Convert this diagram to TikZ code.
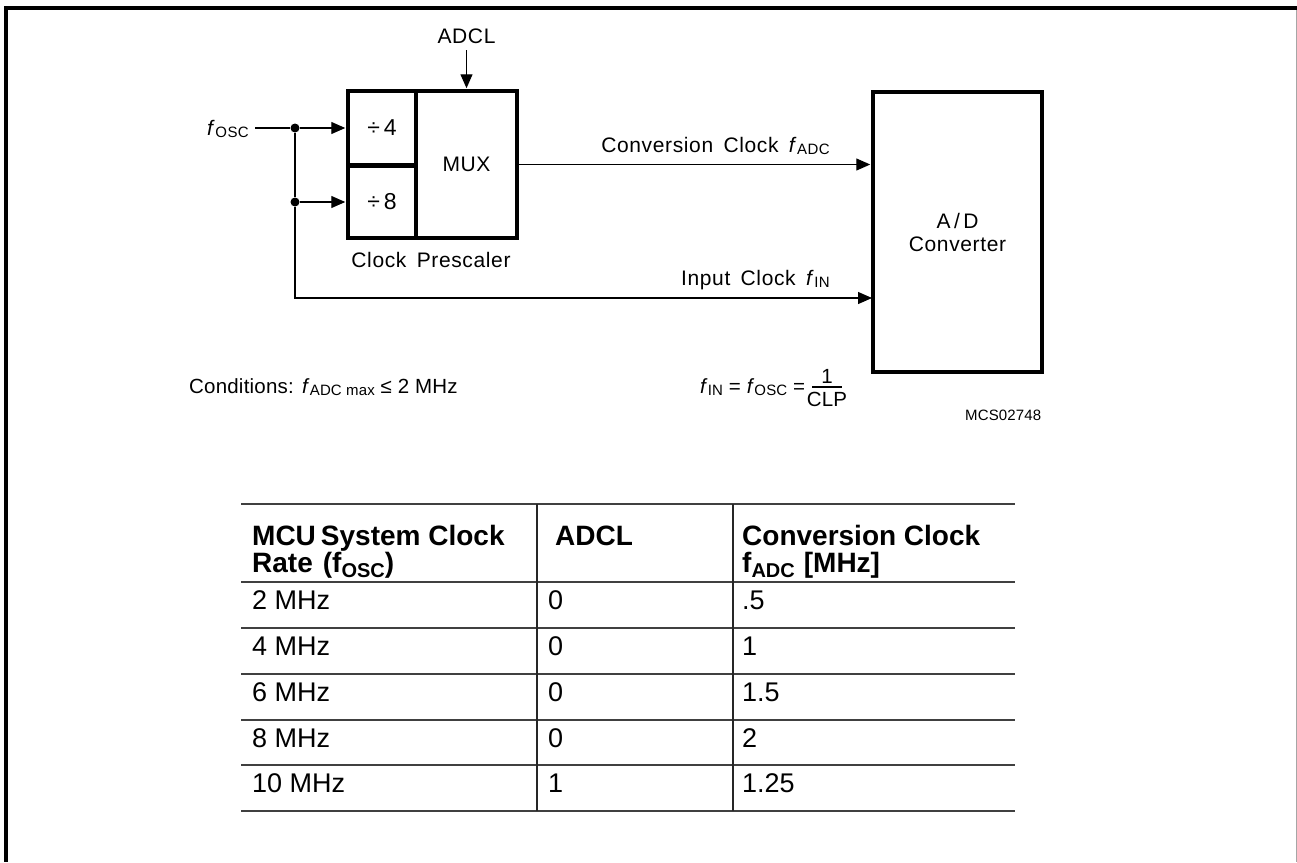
\documentclass[tikz,border=0pt]{standalone}
\usepackage{fontspec}
\setmainfont{Liberation Sans}
\newfontfamily\dfont[WordSpace=1.6,LetterSpace=3]{Liberation Sans}
\newfontfamily\cfont[LetterSpace=1]{Liberation Sans}
\usetikzlibrary{arrows.meta}
\newcommand{\dsub}[1]{\raisebox{-2.5pt}{\fontsize{15}{15}\selectfont #1}}
\newcommand{\tsub}[1]{\raisebox{-5pt}{\fontsize{20}{20}\selectfont\bfseries #1}}
\begin{document}
\begin{tikzpicture}[x=1pt,y=-1pt,
  dtext/.style={font=\dfont\fontsize{21}{23}\selectfont, inner sep=0pt},
  ctext/.style={font=\cfont\fontsize{20.5}{22}\selectfont, inner sep=0pt},
  pbox/.style={draw, line width=3.5pt, font=\dfont\fontsize{21}{23}\selectfont, inner sep=0pt},
  wire/.style={line width=1.3pt},
  arr/.style={wire, -{Triangle[length=14pt,width=12pt]}, shorten >=1pt},
  dot/.style={circle, fill, inner sep=0pt, minimum size=9pt},
  th/.style={font=\fontsize{28}{32}\selectfont\bfseries, inner sep=0pt, anchor=base west},
  td/.style={font=\fontsize{27}{30}\selectfont, inner sep=0pt, anchor=base west},
  tline/.style={line width=2pt, draw=black!75},
  vline/.style={line width=1.3pt, draw=black!85}
]
\useasboundingbox (0,0) rectangle (1297,862);
% frame
\draw[line width=4pt] (4,8) -- (1297,8);
\draw[line width=4pt] (6,6) -- (6,862);
\draw[line width=1pt, black!35] (1296,10) -- (1296,862);

% prescaler
\node[pbox, minimum width=68pt, minimum height=74pt] (d4) at (382,128) {\fontsize{23}{23}\selectfont ÷\,4};
\node[pbox, minimum width=68pt, minimum height=72pt] (d8) at (382,202) {\fontsize{23}{23}\selectfont ÷\,8};
\node[pbox, minimum width=101pt, minimum height=147pt] (mux) at (466.5,164.5) {MUX};
\node[dtext, anchor=base] (lpre) at (431,267) {Clock Prescaler};

% A/D converter
\node[pbox, minimum width=169pt, minimum height=280pt, align=center] (ad) at (957.5,232) {A\,/\,D\\Converter};

% inputs
\node[dtext, anchor=base east] (fosc) at (249,135) {\textit{f}\dsub{OSC}};
\coordinate (fs) at ([xshift=6pt]fosc.east);
\node[dot] (j1) at (295,128) {};
\node[dot] (j2) at (295,202) {};
\draw[wire] (fs |- j1) -- (j1);
\draw[arr] (j1) -- (d4.west);
\draw[wire] (j1) -- (j2);
\draw[arr] (j2) -- (d8.west);
\coordinate (adin) at (873,298);
\draw[arr] (j2) |- (adin);
\draw[arr] (mux.east) -- (mux.east -| ad.west);

\node[dtext, anchor=base] (adcl) at (466.5,43) {ADCL};
\draw[arr] ([yshift=-7pt]adcl.south) -- (mux.north);

\node[dtext, anchor=base east] (lconv) at (830,152) {Conversion Clock \textit{f}\dsub{ADC}};
\node[dtext, anchor=base east] (lin) at (830,285) {Input Clock \textit{f}\dsub{IN}};

% conditions
\node[ctext, anchor=base west] (cond) at (189,393) {Conditions:};
\node[ctext, anchor=base west] (cmax) at (302,393) {\textit{f}\dsub{ADC max} ≤ 2 MHz};
\node[ctext, anchor=base west] (cin) at (700,393) {\textit{f}\dsub{IN} = \textit{f}\dsub{OSC} =};
\node[ctext, anchor=base] (one) at (827,383) {1};
\draw[wire] (812,387) -- (842,387);
\node[ctext, anchor=base] (clp) at (827,406) {CLP};
\node[font=\cfont\fontsize{15}{16}\selectfont, inner sep=0pt, anchor=base west] (code) at (965,420) {MCS02748};

% table
\foreach \yy in {504,582,628,674,720,765,811} \draw[tline] (241,\yy) -- (1015,\yy);
\draw[vline] (537,504) -- (537,811);
\draw[vline] (733,504) -- (733,811);
\node[th] (h1a) at (252,545) {MCU\hspace{5pt}System Clock};
\node[th] (h1b) at (252,572) {Rate\hspace{10pt}(f\tsub{OSC})};
\node[th] (h2) at (555,545) {ADCL};
\node[th] (h3a) at (742,545) {Conversion Clock};
\node[th] (h3b) at (742,572) {f\tsub{ADC}\hspace{9pt}[MHz]};
\node[td] (r1a) at (252,609) {2 MHz};  \node[td] (r1b) at (548,609) {0}; \node[td] (r1c) at (742,609) {.5};
\node[td] (r2a) at (252,655) {4 MHz};  \node[td] (r2b) at (548,655) {0}; \node[td] (r2c) at (742,655) {1};
\node[td] (r3a) at (252,701) {6 MHz};  \node[td] (r3b) at (548,701) {0}; \node[td] (r3c) at (742,701) {1.5};
\node[td] (r4a) at (252,747) {8 MHz};  \node[td] (r4b) at (548,747) {0}; \node[td] (r4c) at (742,747) {2};
\node[td] (r5a) at (252,792) {10 MHz}; \node[td] (r5b) at (548,792) {1}; \node[td] (r5c) at (742,792) {1.25};
\end{tikzpicture}
\end{document}
